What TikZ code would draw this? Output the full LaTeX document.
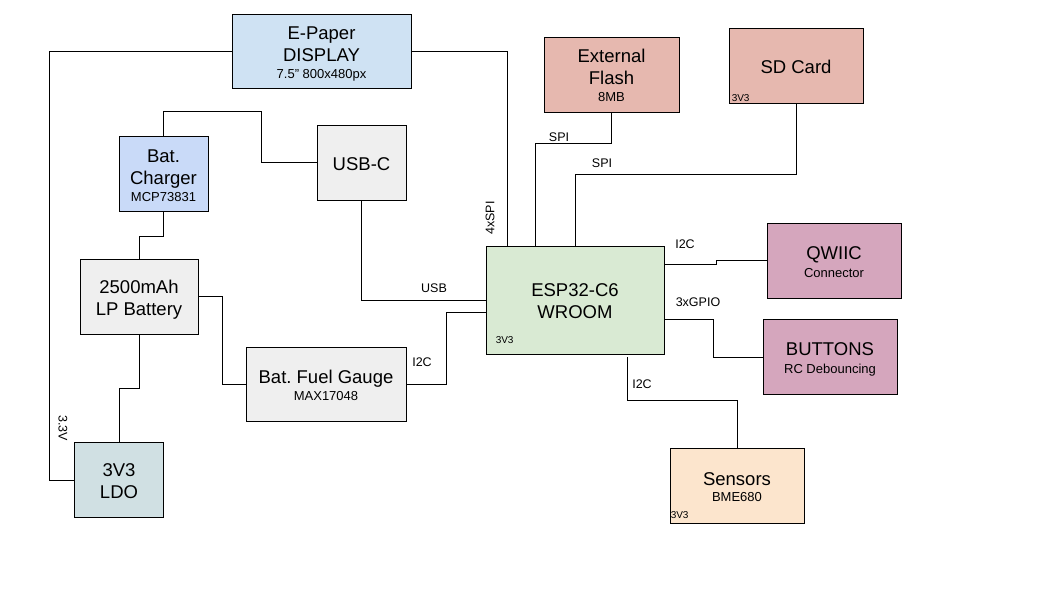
\documentclass[tikz,border=0pt]{standalone}
\usepackage{fontspec}
\setmainfont{Liberation Sans}
\usepackage{xcolor}
\usetikzlibrary{positioning}
\frenchspacing

\definecolor{fill-disp}{HTML}{CFE2F3}
\definecolor{fill-chg}{HTML}{C9DAF8}
\definecolor{fill-grey}{HTML}{EFEFEF}
\definecolor{fill-ldo}{HTML}{D0E0E3}
\definecolor{fill-esp}{HTML}{D9EAD3}
\definecolor{fill-mem}{HTML}{E6B8AF}
\definecolor{fill-io}{HTML}{D5A6BD}
\definecolor{fill-sens}{HTML}{FCE5CD}

\newcommand{\txtbig}{\fontsize{18.5}{22}\selectfont}
\newcommand{\txtsmall}{\fontsize{13}{17}\selectfont}
\newcommand{\capline}{\rule{0pt}{1.05em}}

\begin{document}
\begin{tikzpicture}
[
x=1pt, y=-1pt,
box-a/.style={draw, line width=0.9pt, align=center, inner sep=0pt, font=\txtbig,
              execute at end node={\rule[-0.212em]{0pt}{0.212em}}},
box-s/.style={box-a, minimum width=89pt, minimum height=75pt},
box-m/.style={box-a, minimum width=134pt, minimum height=75pt},
text-a/.style={inner sep=0pt, font=\fontsize{12.5}{14}\selectfont},
text-b/.style={inner sep=0pt, font=\fontsize{10}{12}\selectfont},
wire/.style={line width=0.9pt}
]
\useasboundingbox (0,0) rectangle (1045,594);

% blocks
\node (disp)      [box-a, fill=fill-disp, minimum width=179pt, minimum height=74pt] at (321.5,51)  {\capline E-Paper\\DISPLAY\\[-5pt]{\txtsmall 7.5" 800x480px}};
\node (bat-chg)   [box-s, fill=fill-chg]                                           at (163.5,174) {\capline Bat.\\Charger\\[-5pt]{\txtsmall MCP73831}};
\node (usb-c)     [box-s, fill=fill-grey]                                          at (361.5,162.5) {\capline USB-C};
\node (bat)       [box-a, fill=fill-grey, minimum width=118pt, minimum height=75pt] at (139,296.5) {\capline 2500mAh\\LP Battery};
\node (fuel-g)    [box-a, fill=fill-grey, minimum width=160pt, minimum height=74pt] at (326,384)   {\capline Bat. Fuel Gauge\\[-5pt]{\txtsmall MAX17048}};
\node (ldo)       [box-s, fill=fill-ldo]                                           at (119,480)   {\capline 3V3\\LDO};
\node (esp)       [box-a, fill=fill-esp, minimum width=178pt, minimum height=108pt] at (575,300)   {\capline ESP32-C6\\WROOM};
\node (ext-flash) [box-m, fill=fill-mem, minimum width=135pt]                      at (611.5,74.5) {\capline External\\Flash\\[-5pt]{\txtsmall 8MB}};
\node (sd-card)   [box-m, fill=fill-mem]                                           at (796,65.5)  {\capline SD Card};
\node (qwiic)     [box-m, fill=fill-io]                                            at (834,260.5) {\capline QWIIC\\[-4pt]{\txtsmall Connector}};
\node (btns)      [box-m, fill=fill-io]                                            at (830,357)   {\capline BUTTONS\\[-4pt]{\txtsmall RC Debouncing}};
\node (sens)      [box-m, fill=fill-sens]                                          at (737,485.5) {\capline Sensors\\[-6pt]{\txtsmall BME680}};

% supply tags
\node (esp-pw)    [text-b, above right = 11pt and 10pt of esp.south west]     {3V3};
\node (sd-pw)     [text-b, above right =  2pt and 3pt of sd-card.south west]  {3V3};
\node (sens-pw)   [text-b, above right =  5pt and 1pt of sens.south west]     {3V3};

% wires
\draw [wire] (disp.west) -- ++(-182,0) |- (ldo.west);
\draw [wire] (disp.east) -| ([xshift=-68pt]esp.north);
\draw [wire] (bat-chg.north) -- ++(0,-25) -| ([xshift=-55pt]usb-c.west) -- (usb-c.west);
\draw [wire] (usb-c.south) |- (esp.west);
\draw [wire] (bat-chg.south) -- ++(0,24) -| (bat.north);
\draw [wire] (bat.east) -- ++(24,0) |- (fuel-g.west);
\draw [wire] (bat.south) -- ++(0,54) -| (ldo.north);
\draw [wire] (fuel-g.east) -- ++(40,0) |- ([yshift=-12pt]esp.west);
\draw [wire] (ext-flash.south) -- ++(0,31) -| ([xshift=-40pt]esp.north);
\draw [wire] (sd-card.south) -- ++(0,71) -| (esp.north);
\draw [wire] ([yshift=36pt]esp.east) -- ++(52,0) |- (qwiic.west);
\draw [wire] ([yshift=-19pt]esp.east) -- ++(49,0) |- (btns.west);
\draw [wire] ([xshift=52pt,yshift=-3pt]esp.south) -- ++(0,43) -| (sens.north);

% wire labels
\node (lb-33v)    [text-a, rotate=-90] at (63,428)  {3.3V};
\node (lb-4xspi)  [text-a, rotate=90]  at (490,218) {4xSPI};
\node (lb-usb)    [text-a]             at (434,288) {USB};
\node (lb-i2c-fg) [text-a]             at (422,362) {I2C};
\node (lb-spi-fl) [text-a]             at (559,137) {SPI};
\node (lb-spi-sd) [text-a]             at (602,163) {SPI};
\node (lb-i2c-qw) [text-a]             at (685,244) {I2C};
\node (lb-gpio)   [text-a]             at (698,302) {3xGPIO};
\node (lb-i2c-se) [text-a]             at (642,384) {I2C};

\end{tikzpicture}
\end{document}
